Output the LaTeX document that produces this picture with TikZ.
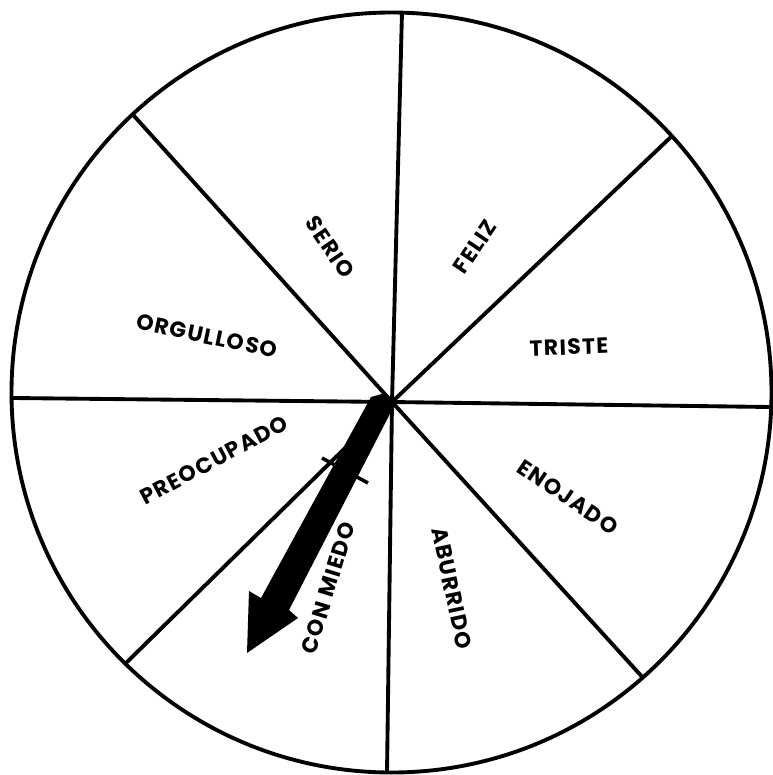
\documentclass[tikz,border=0pt]{standalone}
\usepackage{fontspec}
\setmainfont{Poppins}
\usetikzlibrary{calc}

\begin{document}
\begin{tikzpicture}[x=0.02cm, y=-0.02cm, line width=2.2pt,
    font=\fontsize{12.5}{14}\selectfont\bfseries\addfontfeature{LetterSpace=6},
    emotion/.style={inner sep=1pt}]
	\useasboundingbox (0,0) rectangle (772,775);
	\coordinate (mid) at (391.5,392.5);
	\coordinate (hub) at (392,402);
	% wheel rim
	\draw (mid) circle [x radius=380, y radius=380];
	% spokes, cut at the rim
	\begin{scope}
		\clip (mid) circle [x radius=380, y radius=380];
		\foreach \ex/\ey [count=\i] in {402/12, 673/135, 770/407, 645/680, 387/773, 127/662, 13/398, 135/117} {
			\coordinate (e\i) at (\ex,\ey);
			\draw (hub) -- ($(hub)!1.1!(e\i)$);
		}
	\end{scope}
	% the eight feelings
	\foreach \lx/\ly/\ang/\lab [count=\i] in {330/247/-56/SERIO, 475/247/56/FELIZ, 569/347/2/TRISTE, 568/497/-34/ENOJADO, 452/588/-78/ABURRIDO, 328/588/73/CON MIEDO, 214/460/28/PREOCUPADO, 207/336/-12/ORGULLOSO}
		\node[emotion, rotate=\ang] (f\i) at (\lx,\ly) {\lab};
	% pointer
	\fill (371,397) -- (385,393) -- (395,404) -- (289,610) -- (298,618) -- (247,653) -- (249,591) -- (261,598) -- cycle;
	\draw[line width=2pt] (322,458) -- (368,483);
\end{tikzpicture}
\end{document}
